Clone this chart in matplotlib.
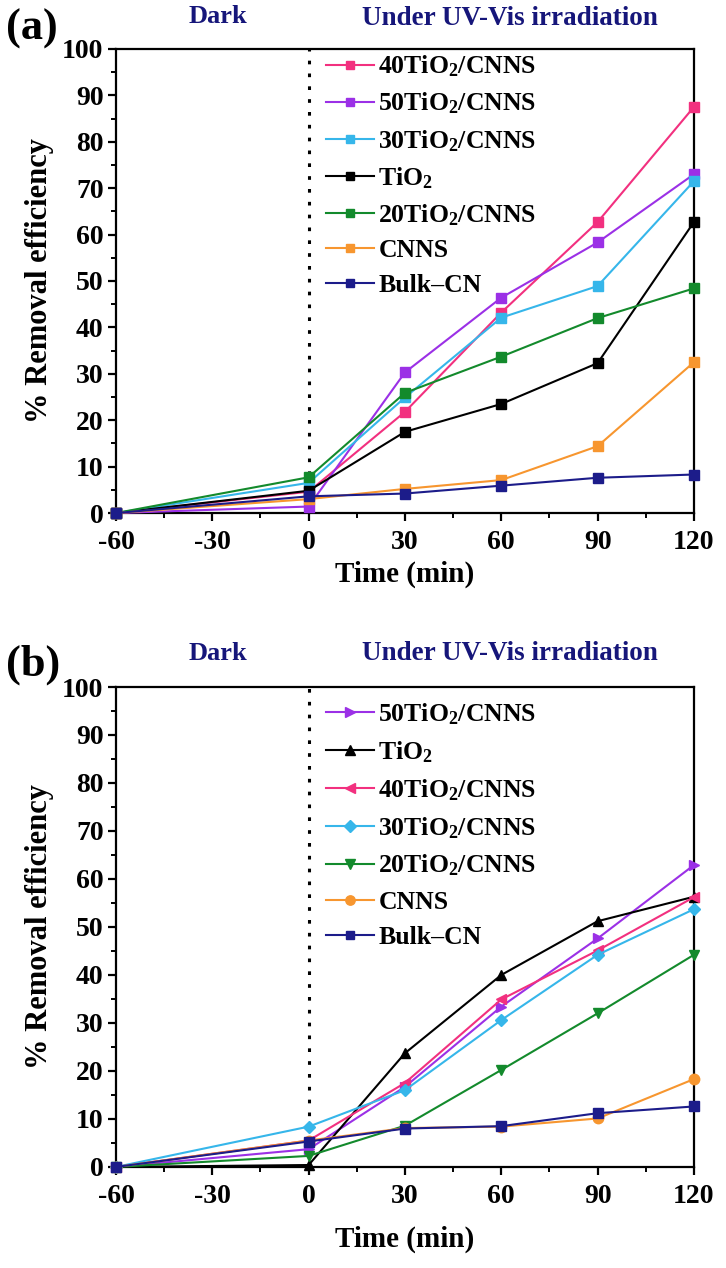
import numpy as np
import matplotlib
matplotlib.use('Agg')
import matplotlib.pyplot as plt

plt.rcParams['font.family'] = ['Liberation Serif', 'DejaVu Serif']
plt.rcParams['font.weight'] = 'bold'
plt.rcParams['mathtext.fontset'] = 'custom'
plt.rcParams['mathtext.rm'] = 'Liberation Serif:bold'
plt.rcParams['mathtext.default'] = 'rm'
plt.rcParams['axes.unicode_minus'] = False

time = [-60, 0, 30, 60, 90, 120]

# panel (a)
labels_a = ['40TiO$_2$/CNNS', '50TiO$_2$/CNNS', '30TiO$_2$/CNNS', 'TiO$_2$',
            '20TiO$_2$/CNNS', 'CNNS', 'Bulk\u2013CN']
tio2_40_a = [0, 4.6, 21.8, 43.2, 62.7, 87.5]
tio2_50_a = [0, 1.4, 30.3, 46.4, 58.3, 73.0]
tio2_30_a = [0, 6.5, 24.9, 42.1, 48.9, 71.5]
tio2_a = [0, 4.8, 17.5, 23.5, 32.3, 62.7]
tio2_20_a = [0, 7.7, 25.9, 33.7, 42.0, 48.4]
cnns_a = [0, 3.0, 5.2, 7.1, 14.4, 32.5]
bulk_a = [0, 3.6, 4.2, 5.9, 7.6, 8.3]

# panel (b)
labels_b = ['50TiO$_2$/CNNS', 'TiO$_2$', '40TiO$_2$/CNNS', '30TiO$_2$/CNNS',
            '20TiO$_2$/CNNS', 'CNNS', 'Bulk\u2013CN']
tio2_50_b = [0, 3.7, 16.7, 33.4, 47.6, 62.9]
tio2_b = [0, 0.4, 23.7, 40.0, 51.2, 56.3]
tio2_40_b = [0, 5.5, 17.5, 34.9, 45.1, 56.2]
tio2_30_b = [0, 8.4, 16.0, 30.6, 44.2, 53.7]
tio2_20_b = [0, 2.3, 8.6, 20.2, 32.0, 44.2]
cnns_b = [0, 5.5, 8.1, 8.4, 10.1, 18.3]
bulk_b = [0, 5.3, 8.0, 8.5, 11.2, 12.6]

pink = '#f2307f'
purple = '#9b30e6'
cyan = '#36b6ea'
black = '#000000'
green = '#138a2c'
orange = '#f7962f'
navy = '#1c1c8a'
header = '#16167a'

series_a = [tio2_40_a, tio2_50_a, tio2_30_a, tio2_a, tio2_20_a, cnns_a, bulk_a]
colors_a = [pink, purple, cyan, black, green, orange, navy]
markers_a = ['s'] * 7

series_b = [tio2_50_b, tio2_b, tio2_40_b, tio2_30_b, tio2_20_b, cnns_b, bulk_b]
colors_b = [purple, black, pink, cyan, green, orange, navy]
markers_b = ['>', '^', '<', 'D', 'v', 'o', 's']
msizes_b = [7.5, 7.5, 7.5, 6.5, 7.5, 7.5, 6.5]

fig = plt.figure(figsize=(7.26, 12.68), dpi=100)
ax_a = fig.add_axes([0.1598, 0.5954, 0.796, 0.366])
ax_b = fig.add_axes([0.1598, 0.0797, 0.796, 0.3785])


def style_axis(ax, labelpad):
    ax.set_xlim(-60, 120)
    ax.set_ylim(0, 100)
    ax.set_xticks(np.arange(-60, 121, 30))
    ax.set_xticks(np.arange(-45, 120, 30), minor=True)
    ax.set_yticks(np.arange(0, 101, 10))
    ax.set_yticks(np.arange(5, 100, 10), minor=True)
    ax.tick_params(which='major', direction='out', length=6, width=1.6, labelsize=20, pad=3)
    ax.tick_params(axis='x', which='major', pad=6)
    ax.tick_params(which='minor', direction='out', length=3.5, width=1.4)
    for s in ax.spines.values():
        s.set_linewidth(1.6)
    ax.axvline(0, color='black', linestyle=(0, (1.2, 3)), linewidth=2.2, zorder=1)
    ax.set_xlabel('Time (min)', fontsize=21, fontweight='bold', labelpad=labelpad)
    ax.set_ylabel('% Removal efficiency', fontsize=22, fontweight='bold', labelpad=6)


for vals, c, m, lab in zip(series_a, colors_a, markers_a, labels_a):
    ax_a.plot(time, vals, color=c, marker=m, markersize=7, linewidth=1.5, label=lab,
              clip_on=False, zorder=3)
style_axis(ax_a, 4)
ax_a.legend(loc='upper left', bbox_to_anchor=(0.345, 1.012), frameon=False, fontsize=18.5,
            handlelength=1.9, handletextpad=0.15, labelspacing=0.45, borderaxespad=0,
            markerscale=0.9)

for vals, c, m, ms, lab in zip(series_b, colors_b, markers_b, msizes_b, labels_b):
    ax_b.plot(time, vals, color=c, marker=m, markersize=ms, linewidth=1.5, label=lab,
              clip_on=False, zorder=3)
style_axis(ax_b, 12)
ax_b.legend(loc='upper left', bbox_to_anchor=(0.345, 0.992), frameon=False, fontsize=18.5,
            handlelength=1.9, handletextpad=0.15, labelspacing=0.48, borderaxespad=0,
            markerscale=0.9)

fig.text(0.008, 0.977, '(a)', fontsize=32, fontweight='bold', va='center', ha='left')
fig.text(0.300, 0.9866, 'Dark', fontsize=19, fontweight='bold', color=header, ha='center', va='center')
fig.text(0.702, 0.9858, 'Under UV-Vis irradiation', fontsize=19.5, fontweight='bold', color=header,
         ha='center', va='center')

fig.text(0.008, 0.476, '(b)', fontsize=32, fontweight='bold', va='center', ha='left')
fig.text(0.300, 0.485, 'Dark', fontsize=19, fontweight='bold', color=header, ha='center', va='center')
fig.text(0.702, 0.485, 'Under UV-Vis irradiation', fontsize=19.5, fontweight='bold', color=header,
         ha='center', va='center')

fig.savefig('out.png', dpi=100)
